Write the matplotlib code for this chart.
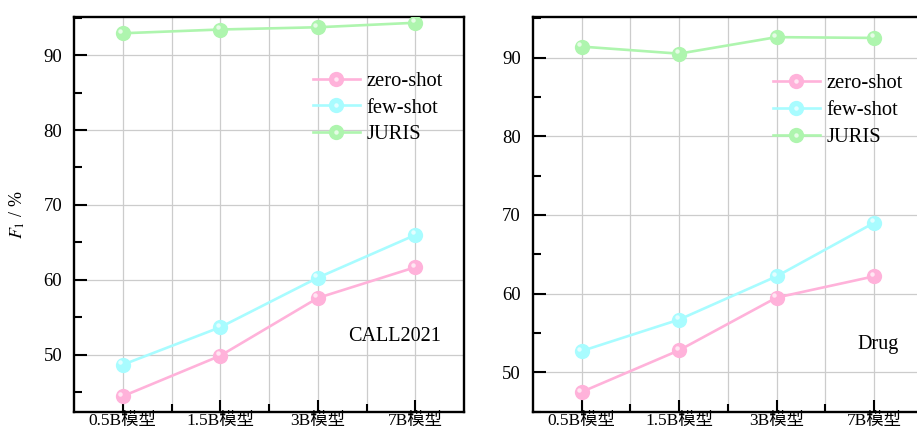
import matplotlib
matplotlib.use('Agg')
import matplotlib.pyplot as plt
import matplotlib.transforms as mtransforms
from matplotlib.ticker import MultipleLocator, FixedLocator
from matplotlib.legend_handler import HandlerTuple

plt.rcParams['font.family'] = ['Liberation Serif', 'Noto Sans CJK SC']
plt.rcParams['mathtext.fontset'] = 'stix'

models = ['0.5B模型', '1.5B模型', '3B模型', '7B模型']
series_names = ['zero-shot', 'few-shot', 'JURIS']

# CALL2021
call_zero = [44.5, 49.9, 57.6, 61.7]
call_few = [48.7, 53.7, 60.3, 66.0]
call_juris = [92.9, 93.4, 93.7, 94.3]

# Drug
drug_zero = [47.5, 52.8, 59.5, 62.2]
drug_few = [52.7, 56.7, 62.2, 69.0]
drug_juris = [91.4, 90.5, 92.6, 92.5]

colors = ['#ffb2da', '#a8fcff', '#aef5ae']

fig = plt.figure(figsize=(9.17, 4.30), dpi=100)
ax1 = fig.add_axes([0.0807, 0.0419, 0.4253, 0.9186])
ax2 = fig.add_axes([0.5810, 0.0426, 0.4253, 0.9186])

panels = [
    (ax1, [call_zero, call_few, call_juris], (42.4, 95.07), 'CALL2021', (0.823, 0.192), (0.612, 0.862)),
    (ax2, [drug_zero, drug_few, drug_juris], (45.0, 95.2), 'Drug', (0.885, 0.170), (0.615, 0.855)),
]

x = list(range(len(models)))
for ax, data, ylim, name, text_pos, leg_pos in panels:
    # small offset spot on each ball marker for a glossy look
    shine = ax.transData + mtransforms.ScaledTranslation(-1.8 / 72, 1.8 / 72, fig.dpi_scale_trans)
    handles = []
    for vals, c, lab in zip(data, colors, series_names):
        ln, = ax.plot(x, vals, color=c, lw=1.9, marker='o', ms=11,
                      markeredgewidth=0, label=lab, zorder=3)
        ax.plot(x, vals, linestyle='none', marker='o', ms=3.2, color='white',
                alpha=0.7, markeredgewidth=0, transform=shine, zorder=4)
        hl, = ax.plot([], [], linestyle='none', marker='o', ms=3.2, color='white',
                      alpha=0.7, markeredgewidth=0)
        handles.append((ln, hl))

    ax.set_xlim(-0.5, 3.5)
    ax.set_ylim(*ylim)
    ax.set_xticks(x)
    ax.set_xticklabels(models)
    ax.xaxis.set_minor_locator(FixedLocator([0.5, 1.5, 2.5]))
    ax.yaxis.set_major_locator(MultipleLocator(10))
    ax.yaxis.set_minor_locator(MultipleLocator(5))

    ax.grid(which='major', color='#cccccc', lw=0.9, zorder=0)
    ax.grid(which='minor', axis='x', color='#cccccc', lw=0.9, zorder=0)
    ax.set_axisbelow(True)

    ax.tick_params(axis='both', which='major', direction='in', length=9, width=1.5)
    ax.tick_params(axis='y', which='major', pad=8.5, labelsize=13.5)
    ax.tick_params(axis='x', which='major', pad=1, labelsize=12.5)
    ax.tick_params(axis='both', which='minor', direction='in', length=5.5, width=1.5)
    for sp in ax.spines.values():
        sp.set_linewidth(1.7)

    ax.legend(handles, series_names, handler_map={tuple: HandlerTuple(ndivide=1)},
              loc='upper left', bbox_to_anchor=leg_pos, frameon=False, fontsize=14.8,
              handlelength=2.3, handletextpad=0.3, labelspacing=0.36,
              borderpad=0, borderaxespad=0)

    ax.text(*text_pos, name, transform=ax.transAxes, fontsize=14.5,
            ha='center', va='center')

ax1.set_ylabel('$F_1$ / %', fontsize=13, labelpad=12)

fig.savefig('out.png', dpi=100)
